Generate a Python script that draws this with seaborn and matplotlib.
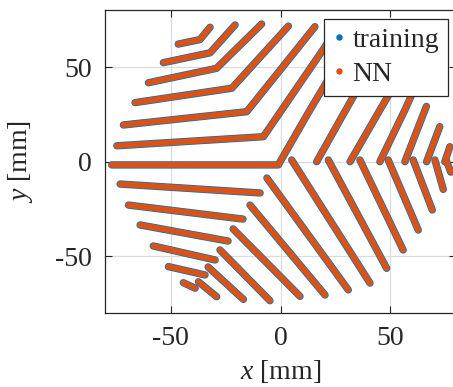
import numpy as np
import pandas as pd
import seaborn as sns
import matplotlib.pyplot as plt
from matplotlib.lines import Line2D

# vertices (mm), one list per traced line
# upper-left chevrons: left end -> kink on the 120 deg ray -> upper end
chev_x = [[-74.6, -7.8, 20.3, 26.0],
          [-71.6, -15.4, 15.7],
          [-66.3, -22.2, 3.6],
          [-60.2, -29.2, -8.6],
          [-53.4, -32.1, -20.7],
          [-46.6, -36.7, -32.1]]
chev_y = [[8.4, 13.2, 60.7, 72.0],
          [19.4, 26.4, 71.3],
          [31.2, 38.8, 71.6],
          [41.7, 49.3, 72.7],
          [52.3, 57.5, 72.2],
          [62.1, 64.5, 71.0]]

# horizontal line into the origin, then up to the right
mid_x = [-76.9, -1.0, 13.4, 35.3]
mid_y = [-1.7, -1.7, 27.3, 69.6]

# upper-right lines starting on the positive x axis
ur_x = [[16.5, 27.1, 46.3], [31.7, 45.3, 57.7], [45.3, 56.7, 64.0],
        [56.7, 66.5], [66.6, 72.6], [74.9, 77.2]]
ur_y = [[0.0, 21.9, 61.1], [0.0, 27.3, 51.9], [0.0, 27.3, 46.0],
        [0.0, 29.2], [0.0, 18.5], [0.0, 7.9]]

# lower-left lines ending on the 240 deg ray
ll_x = [[-73.1, -9.3], [-69.3, -17.1], [-64.0, -23.9],
        [-58.0, -29.8], [-51.1, -34.4], [-44.3, -38.9]]
ll_y = [[-11.8, -16.5], [-22.9, -30.3], [-33.4, -41.9],
        [-44.5, -51.9], [-55.4, -59.8], [-63.9, -66.8]]

# lower-right lines starting on the 240 deg ray
lr_x = [[-6.2, 30.9], [-13.9, 20.3], [-21.6, 8.9],
        [-27.6, -4.8], [-33.0, -16.9], [-37.4, -29.1]]
lr_y = [[-8.6, -67.7], [-22.9, -70.4], [-35.5, -71.1],
        [-46.6, -73.4], [-55.6, -72.7], [-63.4, -71.3]]

# lower-right lines starting on the positive x axis
rx_x = [[5.1, 40.8], [21.8, 48.4], [36.2, 55.9], [49.1, 62.8],
        [60.5, 69.2], [70.4, 74.2], [75.5, 77.6]]
rx_y = [[0.9, -64.1], [0.9, -56.3], [0.9, -46.6], [0.9, -36.1],
        [0.9, -25.5], [0.9, -14.6], [0.9, -5.5]]

BLUE = '#0072BD'
ORANGE = '#D95319'


def build_frame():
    groups = [(chev_x, chev_y), ([mid_x], [mid_y]), (ur_x, ur_y),
              (ll_x, ll_y), (lr_x, lr_y), (rx_x, rx_y)]
    rows = []
    seg = 0
    for xs_list, ys_list in groups:
        for xs, ys in zip(xs_list, ys_list):
            for i, (x, y) in enumerate(zip(xs, ys)):
                rows.append({'x': x, 'y': y, 'seg': seg, 'order': i})
            seg += 1
    return pd.DataFrame(rows)


def main():
    sns.set_style('ticks')
    plt.rcParams['font.family'] = ['Liberation Serif', 'DejaVu Serif']
    plt.rcParams['mathtext.fontset'] = 'custom'
    plt.rcParams['mathtext.it'] = 'Liberation Serif:italic'
    plt.rcParams['mathtext.rm'] = 'Liberation Serif'
    plt.rcParams['axes.unicode_minus'] = False

    df = build_frame()

    fig = plt.figure(figsize=(4.53, 3.87), dpi=100)
    ax = fig.add_axes([105 / 453, 1 - 313.2 / 387, 351 / 453, 303 / 387])

    line_kw = dict(x='x', y='y', units='seg', estimator=None, sort=False,
                   legend=False, ax=ax, solid_capstyle='round',
                   solid_joinstyle='round')
    # training underneath, NN on top
    sns.lineplot(data=df, color=BLUE, linewidth=5.3, **line_kw)
    sns.lineplot(data=df, color=ORANGE, linewidth=4.3, **line_kw)

    ax.set_xlim(-80, 80)
    ax.set_ylim(-80, 80)
    ax.set_xticks([-50, 0, 50])
    ax.set_yticks([-50, 0, 50])
    ax.grid(True, color='#dcdcdc', linewidth=0.9)
    ax.set_axisbelow(True)
    for sp in ax.spines.values():
        sp.set_visible(True)
        sp.set_color('#262626')
        sp.set_linewidth(0.9)
    ax.tick_params(direction='in', length=5, width=0.8, top=True, right=True,
                   labelsize=20, pad=9.5, color='#262626')

    ax.set_xlabel(r'$x$ [mm]', fontsize=20, labelpad=5)
    ax.set_ylabel(r'$y$ [mm]', fontsize=20, labelpad=14)

    handles = [Line2D([], [], linestyle='none', marker='o', markersize=3.6,
                      color=BLUE, label='training'),
               Line2D([], [], linestyle='none', marker='o', markersize=3.6,
                      color=ORANGE, label='NN')]
    leg = ax.legend(handles=handles, loc='upper right',
                    bbox_to_anchor=(0.977, 0.972), fontsize=20,
                    frameon=True, fancybox=False, framealpha=1,
                    edgecolor='#262626', handlelength=0.4,
                    handletextpad=0.3, labelspacing=0.3,
                    borderpad=0.32, borderaxespad=0)
    leg.get_frame().set_linewidth(0.9)

    fig.savefig('out.png', dpi=100)


if __name__ == '__main__':
    main()
